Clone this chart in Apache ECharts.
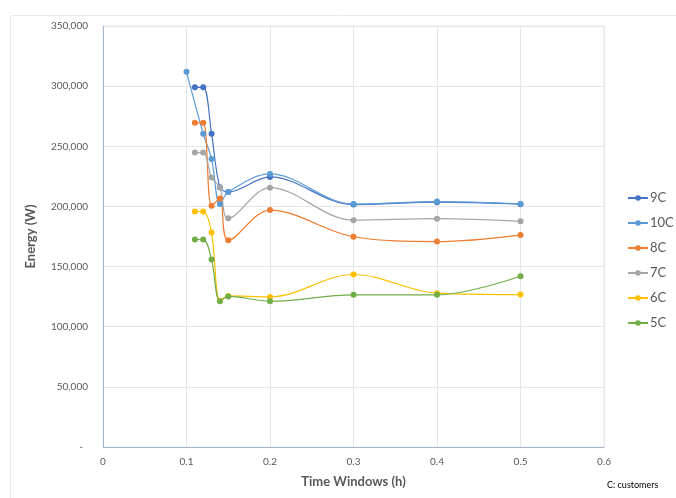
<!DOCTYPE html>
<html><head><meta charset="utf-8">
<script src="https://cdn.jsdelivr.net/npm/echarts@6/dist/echarts.min.js"></script>
<style>
html,body{margin:0;padding:0;background:#fff;}
#c{width:676px;height:498px;}
</style></head>
<body><div id="c"></div>
<script>
const seriesNames = ['9C','10C','8C','7C','6C','5C'];
const x9C  = [0.11,0.12,0.13,0.14,0.15,0.2,0.3,0.4,0.5];
const y9C  = [299000,299000,260500,216000,212000,224500,201500,203500,201800];
const x10C = [0.1,0.12,0.13,0.14,0.15,0.2,0.3,0.4,0.5];
const y10C = [312000,260500,239500,202000,212000,227000,202000,204000,202000];
const x8C  = [0.11,0.12,0.13,0.14,0.15,0.2,0.3,0.4,0.5];
const y8C  = [269500,269500,200500,206500,171800,197000,174800,170800,176200];
const x7C  = [0.11,0.12,0.13,0.14,0.15,0.2,0.3,0.4,0.5];
const y7C  = [244800,244800,224000,215800,190200,215600,188600,189800,187600];
const x6C  = [0.11,0.12,0.13,0.14,0.15,0.2,0.3,0.4,0.5];
const y6C  = [195800,195800,178300,121500,125600,124800,143400,127900,126700];
const x5C  = [0.11,0.12,0.13,0.14,0.15,0.2,0.3,0.4,0.5];
const y5C  = [172500,172500,155800,121200,125200,121200,126500,126500,142000];
const colors = ['#4472C4','#5B9BD5','#ED7D31','#A5A5A5','#FFC000','#70AD47'];

const xs = [x9C,x10C,x8C,x7C,x6C,x5C];
const ys = [y9C,y10C,y8C,y7C,y6C,y5C];
const FONT = 'Lato, "Open Sans", sans-serif';
const TXT = '#595959';

const chart = echarts.init(document.getElementById('c'), null, {renderer:'canvas'});
chart.setOption({
  animation:false,
  textStyle:{fontFamily:FONT},
  grid:{left:103,right:72,top:26,bottom:51,show:true,borderColor:'#e6e8ee',borderWidth:1},
  graphic:[
    {type:'rect',shape:{x:10.5,y:15.5,width:670,height:490},style:{fill:null,stroke:'#e8ebf0',lineWidth:1},silent:true},
    {type:'text',left:607,top:481,style:{text:'C: customers',fontSize:9,fill:'#000',fontFamily:FONT}}
  ],
  legend:{
    orient:'vertical',left:622,top:185,itemGap:9,itemWidth:20,itemHeight:7,
    textStyle:{color:TXT,fontSize:13,fontFamily:FONT,padding:[0,0,0,-3],lineHeight:16},
    data:seriesNames
  },
  xAxis:{
    type:'value',min:0,max:0.6,interval:0.1,
    name:'Time Windows (h)',nameLocation:'middle',nameGap:28,
    nameTextStyle:{color:TXT,fontSize:13,fontWeight:'bold',fontFamily:FONT},
    axisLine:{show:true,lineStyle:{color:'#a9b6c8'}},
    axisTick:{show:false},
    axisLabel:{color:TXT,fontSize:10,margin:10,formatter:v=>v===0?'0':String(+v.toFixed(1))},
    splitLine:{show:true,lineStyle:{color:'#e3e5ea'}}
  },
  yAxis:{
    type:'value',min:0,max:350000,interval:50000,
    name:'Energy (W)',nameLocation:'middle',nameGap:66,nameRotate:90,
    nameTextStyle:{color:TXT,fontSize:13,fontWeight:'bold',fontFamily:FONT},
    axisLine:{show:true,lineStyle:{color:'#a9b6c8'}},
    axisTick:{show:false},
    axisLabel:{color:TXT,fontSize:10,margin:15,formatter:v=>v===0?'-  ':v.toLocaleString('en-US')},
    splitLine:{show:true,lineStyle:{color:'#e3e5ea'}}
  },
  series:seriesNames.map((n,i)=>({
    name:n,type:'line',smooth:0.35,
    symbol:'circle',symbolSize:6,
    itemStyle:{color:colors[i]},
    lineStyle:{width:1.2,color:colors[i]},
    data:xs[i].map((x,j)=>[x,ys[i][j]])
  }))
});
</script></body></html>
